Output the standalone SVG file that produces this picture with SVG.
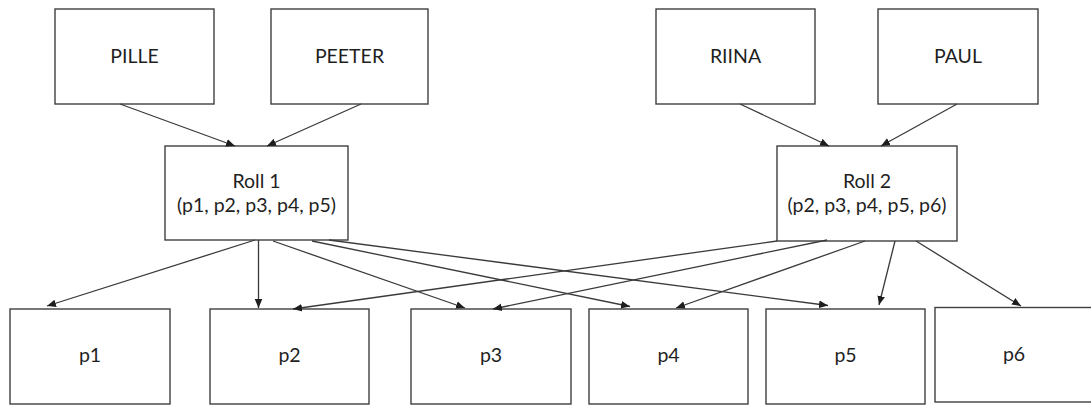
<svg xmlns="http://www.w3.org/2000/svg" width="1091" height="405" viewBox="0 0 1091 405">
  <style>
    .box { fill: #ffffff; stroke: #3f3f3f; stroke-width: 1.4; }
    .lbl { font-family: Lato, "Liberation Sans", sans-serif; font-size: 19.5px; fill: #1f1f1f; text-anchor: middle; }
    .edge { fill: none; stroke: #3a3a3a; stroke-width: 1.3; marker-end: url(#arrow); }
  </style>
  <defs>
    <marker id="arrow" markerUnits="userSpaceOnUse" markerWidth="10" markerHeight="10" viewBox="0 0 10 10" refX="9" refY="5" orient="auto">
      <path d="M0,1.2 L9,5 L0,8.8 Z" fill="#1e1e1e"/>
    </marker>
  </defs>
  <rect width="1091" height="405" fill="#ffffff"/>

  <!-- people -->
  <g id="pille"><rect class="box" x="55" y="9" width="159" height="95"/><text class="lbl" x="134.5" y="63">PILLE</text></g>
  <g id="peeter"><rect class="box" x="271" y="9" width="157" height="95"/><text class="lbl" x="349.5" y="63">PEETER</text></g>
  <g id="riina"><rect class="box" x="656" y="9" width="159" height="95"/><text class="lbl" x="735.5" y="63">RIINA</text></g>
  <g id="paul"><rect class="box" x="878" y="9" width="160" height="95"/><text class="lbl" x="958" y="63">PAUL</text></g>

  <!-- roles -->
  <g id="roll1"><rect class="box" x="165" y="146" width="183" height="94"/>
    <text class="lbl" x="256.5" y="187.5">Roll 1</text>
    <text class="lbl" x="256.5" y="212">(p1, p2, p3, p4, p5)</text></g>
  <g id="roll2"><rect class="box" x="777" y="146" width="180" height="95"/>
    <text class="lbl" x="867" y="187.5">Roll 2</text>
    <text class="lbl" x="867" y="212">(p2, p3, p4, p5, p6)</text></g>

  <!-- permissions -->
  <g id="p1"><rect class="box" x="10" y="309" width="160" height="95"/><text class="lbl" x="90" y="362">p1</text></g>
  <g id="p2"><rect class="box" x="210" y="309" width="159" height="95"/><text class="lbl" x="289.5" y="362">p2</text></g>
  <g id="p3"><rect class="box" x="411" y="309" width="160" height="95"/><text class="lbl" x="491" y="362">p3</text></g>
  <g id="p4"><rect class="box" x="589" y="309" width="159" height="95"/><text class="lbl" x="668.5" y="362">p4</text></g>
  <g id="p5"><rect class="box" x="766" y="309" width="159" height="95"/><text class="lbl" x="845.5" y="362">p5</text></g>
  <g id="p6"><rect class="box" x="935" y="307.5" width="159" height="94.5"/><text class="lbl" x="1014" y="361">p6</text></g>

  <g id="connectors">
    <line class="edge" x1="120" y1="104" x2="235" y2="146"/>
    <line class="edge" x1="361" y1="104" x2="267" y2="146"/>
    <line class="edge" x1="740" y1="104" x2="829" y2="146"/>
    <line class="edge" x1="957" y1="104" x2="881" y2="146"/>

    <line class="edge" x1="255" y1="240" x2="47" y2="306"/>
    <line class="edge" x1="258.5" y1="240" x2="258.5" y2="308"/>
    <line class="edge" x1="273" y1="241" x2="465" y2="308"/>
    <line class="edge" x1="312" y1="241" x2="630" y2="306.5"/>
    <line class="edge" x1="329" y1="240" x2="828" y2="305.5"/>

    <line class="edge" x1="777" y1="241" x2="293" y2="309"/>
    <line class="edge" x1="827" y1="240" x2="493" y2="309"/>
    <line class="edge" x1="865" y1="241" x2="676" y2="308"/>
    <line class="edge" x1="895" y1="241" x2="879" y2="305"/>
    <line class="edge" x1="916" y1="241" x2="1021" y2="306"/>
  </g>
</svg>
